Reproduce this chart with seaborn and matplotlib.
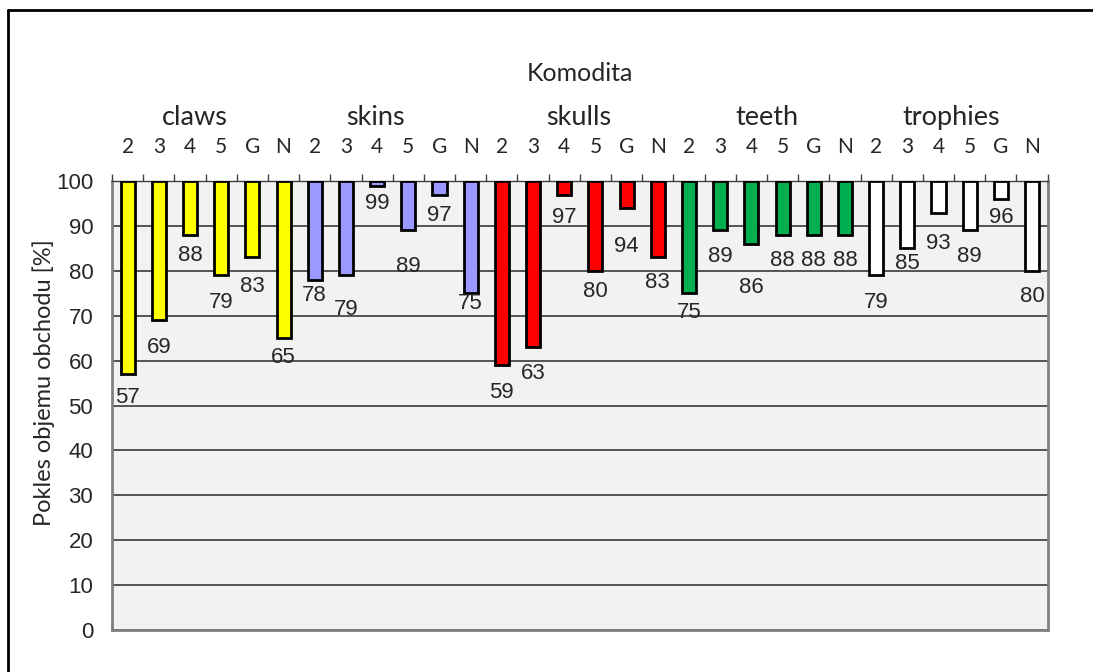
import numpy as np
import pandas as pd
import seaborn as sns
import matplotlib.pyplot as plt
from matplotlib.lines import Line2D
from matplotlib.ticker import FuncFormatter, FixedLocator

# data
groups = ['claws', 'skins', 'skulls', 'teeth', 'trophies']
subcats = ['2', '3', '4', '5', 'G', 'N']
claws = [57, 69, 88, 79, 83, 65]
skins = [78, 79, 99, 89, 97, 75]
skulls = [59, 63, 97, 80, 94, 83]
teeth = [75, 89, 86, 88, 88, 88]
trophies = [79, 85, 93, 89, 96, 80]
colors = ['#FFFF00', '#9999FF', '#FF0000', '#00B050', '#FFFFFF']

# how far below the bar end each value label sits (data units)
label_drop = [5.1, 6.0, 4.5, 6.0, 6.4, 4.2,
              3.4, 7.5, 3.9, 8.0, 4.6, 2.2,
              6.0, 5.8, 5.0, 4.7, 8.5, 5.5,
              4.2, 5.7, 9.6, 5.6, 5.6, 5.6,
              6.0, 3.3, 6.8, 5.7, 4.2, 5.8]
# group names are not quite centred in the original (in bar slots)
group_nudge = [-0.35, -0.55, -0.05, 0.0, -0.1]

rows = []
for g, vals in zip(groups, [claws, skins, skulls, teeth, trophies]):
    for s, v in zip(subcats, vals):
        rows.append({'key': g + '_' + s, 'group': g, 'sub': s, 'value': v})
df = pd.DataFrame(rows)
df['drop'] = df['value'] - 100   # bars hang down from 100

sns.set_style('white')
plt.rcParams['font.family'] = ['Liberation Sans', 'DejaVu Sans']

fig = plt.figure(figsize=(10.93, 6.72), dpi=100)
ax = fig.add_axes([0.1025, 0.0625, 0.856, 0.668])
ax.set_facecolor('#F2F2F2')

sns.barplot(data=df, x='key', y='drop', hue='group', palette=colors,
            saturation=1, dodge=False, width=0.45, edgecolor='black',
            linewidth=2, legend=False, ax=ax, zorder=3)

ax.set_ylim(-100, 0)
ax.set_xlim(-0.5, len(df) - 0.5)
ax.yaxis.set_major_locator(FixedLocator(np.arange(-100, 1, 10)))
ax.yaxis.set_major_formatter(FuncFormatter(lambda v, p: f'{v + 100:.0f}'))
ax.grid(axis='y', color='#3a3a3a', lw=1.2, zorder=1)
ax.set_axisbelow(True)

# top category axis
ax.xaxis.tick_top()
ax.set_xticks(range(len(df)))
ax.set_xticklabels(df['sub'], fontsize=15, family=['Lato'])
ax.set_xticks(np.arange(-0.5, len(df), 1), minor=True)
ax.tick_params(axis='x', which='major', length=0, pad=17)
ax.tick_params(axis='x', which='minor', length=5, color='#404040', width=1, direction='out')
ax.tick_params(axis='y', length=4.5, color='#404040', width=1, direction='out', labelsize=16, pad=9)
ax.set_xlabel('')
ax.set_ylabel('Pokles objemu obchodu [%]', fontsize=17, family=['Lato'])
ax.yaxis.set_label_coords(-0.061, 0.55)

for side in ['left', 'right', 'bottom']:
    ax.spines[side].set_color('#808080')
    ax.spines[side].set_linewidth(2)
ax.spines['top'].set_color('#404040')
ax.spines['top'].set_linewidth(1)

# value labels below the bar ends
for i, (v, d) in enumerate(zip(df['value'], label_drop)):
    ax.text(i, v - 100 - d, str(v), ha='center', va='center', fontsize=16, zorder=4)

# group names and title above
for k, (g, n) in enumerate(zip(groups, group_nudge)):
    ax.text((6 * k + 3 + n) / len(df), 1.1425, g, transform=ax.transAxes,
            ha='center', va='center', fontsize=19.5, family=['Lato'])
ax.text(0.5, 1.2405, 'Komodita', transform=ax.transAxes, ha='center', va='center',
        fontsize=18, family=['Lato'])

# chart frame (top and left edges are visible)
fig.add_artist(Line2D([8 / 1093, 8 / 1093], [0, 1 - 10 / 672], color='black', lw=2))
fig.add_artist(Line2D([8 / 1093, 1], [1 - 10 / 672, 1 - 10 / 672], color='black', lw=2))

fig.savefig('out.png', dpi=100)
